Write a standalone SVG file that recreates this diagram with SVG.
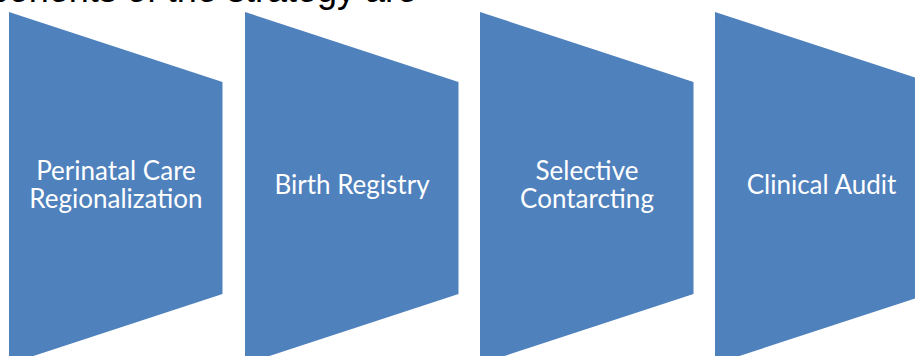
<svg xmlns="http://www.w3.org/2000/svg" width="915" height="356" viewBox="0 0 915 356">
<style>
.shape{fill:#4F81BD;}
.lbl{font-family:Lato,"Open Sans","Liberation Sans",sans-serif;font-size:26px;fill:#FFFFFF;text-anchor:middle;}
.cap{font-family:"Liberation Sans",Arial,sans-serif;font-size:36px;fill:#000000;text-anchor:end;}
</style>
<rect width="915" height="356" fill="#FFFFFF"/>
<text class="cap" x="417" y="2">The components of the strategy are</text>
<g id="node1">
<polygon class="shape" points="9,12 222.5,82 222.5,294 9,364"/>
<text class="lbl" x="116" y="180">Perinatal Care</text>
<text class="lbl" x="116" y="208">Regionalization</text>
</g>
<g id="node2">
<polygon class="shape" points="245,12 458.5,82 458.5,294 245,364"/>
<text class="lbl" x="352" y="194">Birth Registry</text>
</g>
<g id="node3">
<polygon class="shape" points="480,12 693.5,82 693.5,294 480,364"/>
<text class="lbl" x="587" y="180">Selective</text>
<text class="lbl" x="587" y="208">Contarcting</text>
</g>
<g id="node4">
<polygon class="shape" points="715,12 928.5,82 928.5,294 715,364"/>
<text class="lbl" x="821.5" y="194">Clinical Audit</text>
</g>
<g id="connectors"></g>
</svg>
